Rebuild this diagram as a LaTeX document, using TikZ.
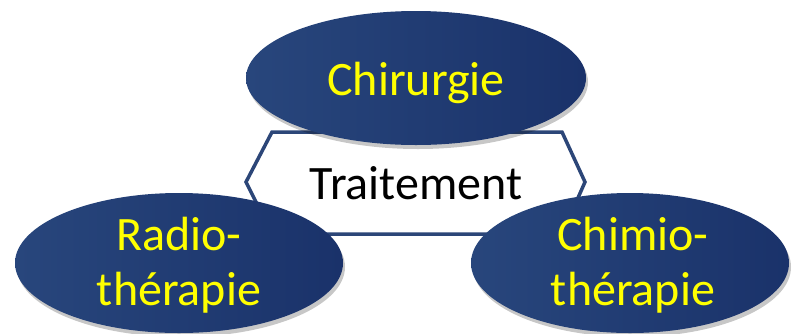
\documentclass[tikz,border=0pt]{standalone}
\usepackage{fontspec}
\setmainfont{Carlito}
\usetikzlibrary{shapes.geometric,shadows}
\definecolor{navyL}{RGB}{40,70,124}
\definecolor{navyR}{RGB}{26,50,106}
\definecolor{hexline}{RGB}{44,70,120}
\definecolor{lblyellow}{RGB}{255,255,0}
\tikzset{
  blob/.style={ellipse, draw=none, left color=navyL, right color=navyR,
    drop shadow={shadow xshift=2pt, shadow yshift=-4pt, opacity=0.22, fill=black},
    inner sep=0pt},
  lbl/.style={text=lblyellow, font=\fontsize{48}{55}\selectfont, align=center, inner sep=0pt},
  hexlbl/.style={text=black, font=\fontsize{48}{55}\selectfont, inner sep=0pt}
}
\begin{document}
\begin{tikzpicture}[x=1pt,y=-1pt]
\useasboundingbox (0,0) rectangle (792,333);
% central hexagon
\draw[hexline, line width=3.5pt, fill=white, line join=miter]
  (246,182) -- (272,132) -- (562,132) -- (585,182) -- (562,234) -- (272,234) -- cycle;
\node[hexlbl, anchor=base] (trait) at (416,199) {Traitement};
% ellipses
\node[blob, minimum width=340pt, minimum height=134pt] (chir) at (416,78) {};
\node[lbl] (chirt) at (416,83) {Chirurgie};
\node[blob, minimum width=328pt, minimum height=140pt] (radio) at (179,263) {};
\node[lbl] (radiot) at (179,265) {Radio-\\thérapie};
\node[blob, minimum width=318pt, minimum height=140pt] (chimio) at (630,263) {};
\node[lbl] (chimiot) at (633,265) {Chimio-\\thérapie};
\end{tikzpicture}
\end{document}
